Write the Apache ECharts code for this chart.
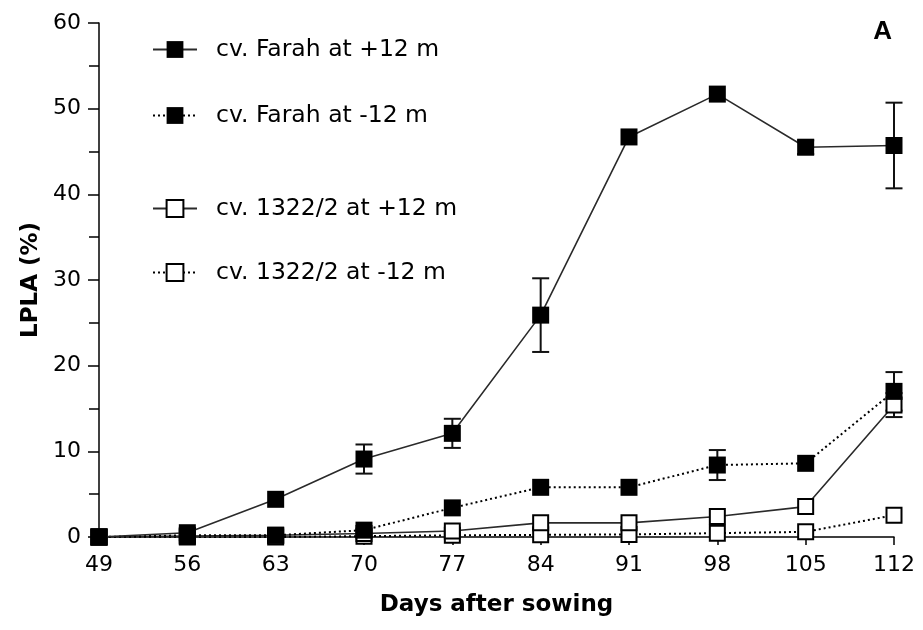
<!DOCTYPE html>
<html>
<head>
<meta charset="utf-8">
<script src="https://cdn.jsdelivr.net/npm/echarts@6/dist/echarts.min.js"></script>
<style>
  html, body { margin: 0; padding: 0; background: #fff; }
  #chart { width: 923px; height: 630px; }
</style>
</head>
<body>
<div id="chart"></div>
<script>
// Days after sowing (x positions)
var days = [49, 56, 63, 70, 77, 84, 91, 98, 105, 112];

// Leaf area affected (%) per treatment, with standard errors
var farahPlus       = [0, 0.5, 4.4, 9.1, 12.1, 25.9, 46.7, 51.7, 45.5, 45.7];
var farahPlusErr    = [0, 0, 0, 1.7, 1.7, 4.3, 0, 0, 0.8, 5.0];
var farahMinus      = [0, 0.2, 0.2, 0.8, 3.4, 5.8, 5.8, 8.4, 8.6, 17.0];
var farahMinusErr   = [0, 0, 0, 0, 0, 0, 0, 1.75, 0, 2.25];
var line1322Plus    = [0, 0.1, 0.2, 0.4, 0.7, 1.65, 1.65, 2.4, 3.55, 15.4];
var line1322PlusErr = [0, 0, 0, 0, 0, 0, 0, 0, 0, 1.4];
var line1322Minus   = [0, 0, 0, 0.1, 0.2, 0.25, 0.3, 0.45, 0.6, 2.55];
var line1322MinusErr= [0, 0, 0, 0, 0, 0, 0, 0, 0, 0];

var names = [
  'cv. Farah at +12 m',
  'cv. Farah at -12 m',
  'cv. 1322/2 at +12 m',
  'cv. 1322/2 at -12 m'
];

var FONT = '"DejaVu Sans", "Liberation Sans", Arial, sans-serif';

function pairs(ys) {
  return days.map(function (d, i) { return [d, ys[i]]; });
}
function errRows(ys, es) {
  var out = [];
  days.forEach(function (d, i) {
    if (es[i] > 0) out.push([d, ys[i] - es[i], ys[i] + es[i]]);
  });
  return out;
}

// Vertical error bars with caps, drawn through the cartesian coordinate system
function errorBarSeries(rows, z) {
  return {
    type: 'custom',
    z: z,
    silent: true,
    data: rows,
    encode: { x: 0, y: [1, 2] },
    renderItem: function (params, api) {
      var x = api.value(0);
      var lo = api.coord([x, api.value(1)]);
      var hi = api.coord([x, api.value(2)]);
      var half = 8.5;
      var style = { stroke: '#111', lineWidth: 2 };
      return {
        type: 'group',
        children: [
          { type: 'line', shape: { x1: lo[0], y1: lo[1], x2: hi[0], y2: hi[1] }, style: style },
          { type: 'line', shape: { x1: hi[0] - half, y1: hi[1], x2: hi[0] + half, y2: hi[1] }, style: style },
          { type: 'line', shape: { x1: lo[0] - half, y1: lo[1], x2: lo[0] + half, y2: lo[1] }, style: style }
        ]
      };
    }
  };
}

var solid = { color: '#2a2a2a', width: 1.6, type: 'solid' };
var dotted = { color: '#000', width: 2, type: [2, 3] };
var filled = { color: '#000', borderColor: '#000', borderWidth: 0 };
var open = { color: '#fff', borderColor: '#000', borderWidth: 2 };

function lineSeries(name, ys, lineStyle, itemStyle, size, z) {
  return {
    name: name,
    type: 'line',
    z: z,
    data: pairs(ys),
    symbol: 'rect',
    symbolSize: size,
    showAllSymbol: true,
    lineStyle: lineStyle,
    itemStyle: itemStyle,
    emphasis: { disabled: true },
    animation: false
  };
}

var legendText = { fontFamily: FONT, fontSize: 23.5, color: '#000', padding: [0, 0, 0, 14], lineHeight: 21 };

var chart = echarts.init(document.getElementById('chart'), null, { renderer: 'canvas' });
chart.setOption({
  animation: false,
  backgroundColor: '#fff',
  title: {
    text: 'A',
    right: 31,
    top: 19,
    padding: 0,
    textStyle: { fontFamily: '"Liberation Sans", Arial, sans-serif', fontWeight: 'bold', fontSize: 26, color: '#000' }
  },
  legend: [
    {
      data: [names[0], names[1]],
      orient: 'vertical',
      left: 152,
      top: 37.5,
      padding: 0,
      itemWidth: 44,
      itemHeight: 21,
      itemGap: 42,
      textStyle: legendText,
      selectedMode: false
    },
    {
      data: [names[2], names[3]],
      orient: 'vertical',
      left: 152,
      top: 196.5,
      padding: 0,
      itemWidth: 44,
      itemHeight: 21,
      itemGap: 40,
      textStyle: legendText,
      selectedMode: false
    }
  ],
  grid: { left: 99, right: 29, top: 23, bottom: 93, containLabel: false },
  xAxis: {
    type: 'value',
    min: 49,
    max: 112,
    interval: 7,
    name: 'Days after sowing',
    nameLocation: 'middle',
    nameGap: 57,
    nameTextStyle: { fontFamily: FONT, fontWeight: 'bold', fontSize: 23, color: '#000' },
    axisLine: { onZero: false, lineStyle: { color: '#000', width: 1.5 } },
    axisTick: { length: 8, lineStyle: { color: '#000', width: 1.5 } },
    axisLabel: { fontFamily: FONT, fontSize: 22, color: '#000', margin: 17 },
    splitLine: { show: false }
  },
  yAxis: {
    type: 'value',
    min: 0,
    max: 60,
    interval: 10,
    name: 'LPLA (%)',
    nameLocation: 'middle',
    nameGap: 56,
    nameTextStyle: { fontFamily: FONT, fontWeight: 'bold', fontSize: 23, color: '#000' },
    axisLine: { show: true, lineStyle: { color: '#000', width: 1.5 } },
    axisTick: { show: true, length: 11, lineStyle: { color: '#000', width: 1.5 } },
    minorTick: { show: true, splitNumber: 2, length: 10, lineStyle: { color: '#000', width: 1.5 } },
    axisLabel: { fontFamily: FONT, fontSize: 22, color: '#000', margin: 18 },
    splitLine: { show: false }
  },
  series: [
    errorBarSeries(errRows(farahPlus, farahPlusErr), 1),
    errorBarSeries(errRows(farahMinus, farahMinusErr), 1),
    errorBarSeries(errRows(line1322Plus, line1322PlusErr), 1),
    errorBarSeries(errRows(line1322Minus, line1322MinusErr), 1),
    lineSeries(names[3], line1322Minus, dotted, open, 15, 2),
    lineSeries(names[2], line1322Plus, solid, open, 15, 3),
    lineSeries(names[1], farahMinus, dotted, filled, 17, 4),
    lineSeries(names[0], farahPlus, solid, filled, 17, 5)
  ]
});
</script>
</body>
</html>
